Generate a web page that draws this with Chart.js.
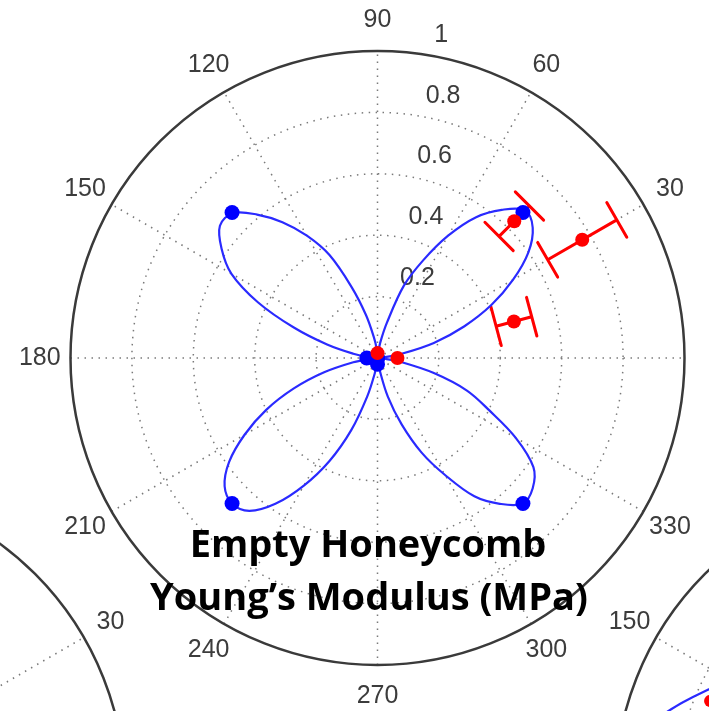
<!DOCTYPE html>
<html>
<head>
<meta charset="utf-8">
<script src="https://cdn.jsdelivr.net/npm/chart.js@4/dist/chart.umd.min.js"></script>
<style>
  html, body { margin: 0; padding: 0; background: #fff; }
  #wrap { width: 709px; height: 711px; }
</style>
</head>
<body>
<div id="wrap"><canvas id="polarChart" width="709" height="711"></canvas></div>
<script>
// ---- values (angles in degrees, radii in plot units) ----
const curveAngles = [0, 5, 10, 15, 20, 25, 30, 35, 40, 45, 50, 55, 60, 65, 70, 75, 80, 85,
                     90, 95, 100, 105, 110, 115, 120, 125, 130, 135, 140, 145, 150, 155, 160, 165, 170, 175,
                     180, 185, 190, 195, 200, 205, 210, 215, 220, 225, 230, 235, 240, 245, 250, 255, 260, 265,
                     270, 275, 280, 285, 290, 295, 300, 305, 310, 315, 320, 325, 330, 335, 340, 345, 350, 355, 360];
const curveRadii = [0, 0.02, 0.08, 0.19, 0.30, 0.41, 0.51, 0.60, 0.66, 0.68, 0.63, 0.56, 0.46, 0.35, 0.25, 0.12, 0.05, 0.01,
                    0, 0.03, 0.07, 0.145, 0.245, 0.37, 0.46, 0.54, 0.61, 0.667, 0.67, 0.62, 0.55, 0.43, 0.29, 0.17, 0.08, 0.03,
                    0, 0.02, 0.08, 0.18, 0.29, 0.40, 0.50, 0.59, 0.65, 0.67, 0.65, 0.58, 0.48, 0.37, 0.25, 0.13, 0.05, 0.01,
                    0, 0.01, 0.04, 0.13, 0.23, 0.34, 0.44, 0.55, 0.62, 0.67, 0.66, 0.62, 0.52, 0.40, 0.31, 0.19, 0.08, 0.02, 0];

const blueAngles = [0, 45, 90, 135, 180, 225, 270, 315];
const blueRadii = [0, 0.67, 0, 0.67, 0.035, 0.67, 0.02, 0.67];

const redAngles = [0, 15, 30, 45, 90];
const redRadii = [0.065, 0.46, 0.77, 0.63, 0.016];
const redErrors = [0, 0.06, 0.13, 0.07, 0];

const angleTicks = [0, 30, 60, 90, 120, 150, 180, 210, 240, 270, 300, 330];
const ringTicks = [0.2, 0.4, 0.6, 0.8, 1];

// neighbouring subplot at the bottom right, only a sliver is visible
const sideAngles = [145, 150, 155, 160, 165];
const sideRadii = [0.68, 0.72, 0.775, 0.835, 0.90];
const sideRedAngles = [157];
const sideRedRadii = [0.75];

const titleLines = ['Empty Honeycomb', 'Young\u2019s Modulus (MPa)'];

// ---- layout ----
const W = 709, H = 711;
const CX = 377.5, CY = 358, R = 307;   // main polar axes, pixels
const AXES = [
  { cx: 0, cy: 0, rings: true },
  { cx: (-182 - CX) / R, cy: -(791 - CY) / R, rings: false },
  { cx: (922 - CX) / R, cy: -(791 - CY) / R, rings: true }
];
const deg = Math.PI / 180;

function polarPoints(ax, angles, radii) {
  return angles.map((a, i) => ({
    x: ax.cx + radii[i] * Math.cos(a * deg),
    y: ax.cy + radii[i] * Math.sin(a * deg)
  }));
}

const polarGrid = {
  id: 'polarGrid',
  beforeDatasetsDraw(chart) {
    const { ctx, scales: { x, y } } = chart;
    ctx.save();
    AXES.forEach(ax => {
      const px = x.getPixelForValue(ax.cx), py = y.getPixelForValue(ax.cy);
      const rad = x.getPixelForValue(ax.cx + 1) - px;

      // dotted grid
      ctx.strokeStyle = '#7a7a7a';
      ctx.lineWidth = 1.5;
      ctx.setLineDash([1.5, 5.5]);
      if (ax.rings) {
        ringTicks.slice(0, -1).forEach(t => {
          ctx.beginPath();
          ctx.arc(px, py, t * rad, 0, 2 * Math.PI);
          ctx.stroke();
        });
      }
      angleTicks.filter(a => a < 180).forEach(a => {
        const c = Math.cos(a * deg) * rad, s = Math.sin(a * deg) * rad;
        ctx.beginPath();
        ctx.moveTo(px - c, py + s);
        ctx.lineTo(px + c, py - s);
        ctx.stroke();
      });

      // outer circle
      ctx.setLineDash([]);
      ctx.strokeStyle = '#3a3a3a';
      ctx.lineWidth = 2.5;
      ctx.beginPath();
      ctx.arc(px, py, rad, 0, 2 * Math.PI);
      ctx.stroke();

      // angle labels
      ctx.fillStyle = '#3c3c3c';
      ctx.font = '25px "Liberation Sans", Arial, sans-serif';
      ctx.textAlign = 'center';
      ctx.textBaseline = 'middle';
      angleTicks.forEach(a => {
        ctx.fillText(String(a), px + 1.1 * rad * Math.cos(a * deg), py - 1.1 * rad * Math.sin(a * deg));
      });

      // radius labels
      ctx.textAlign = 'left';
      ringTicks.forEach(t => {
        ctx.fillText(String(t), px + t * rad * Math.cos(82 * deg) + 14, py - t * rad * Math.sin(82 * deg) - 19);
      });
    });

    // radial error bars on the red points
    const main = AXES[0];
    const cap = 20;
    ctx.strokeStyle = '#ff0000';
    ctx.lineWidth = 3;
    ctx.lineCap = 'round';
    redAngles.forEach((a, i) => {
      const e = redErrors[i];
      if (!e) return;
      const [p1, p2] = polarPoints(main, [a, a], [redRadii[i] - e, redRadii[i] + e])
        .map(p => ({ x: x.getPixelForValue(p.x), y: y.getPixelForValue(p.y) }));
      const len = Math.hypot(p2.x - p1.x, p2.y - p1.y);
      const nx = -(p2.y - p1.y) / len * cap, ny = (p2.x - p1.x) / len * cap;
      ctx.beginPath();
      ctx.moveTo(p1.x, p1.y); ctx.lineTo(p2.x, p2.y);
      [p1, p2].forEach(p => { ctx.moveTo(p.x - nx, p.y - ny); ctx.lineTo(p.x + nx, p.y + ny); });
      ctx.stroke();
    });
    ctx.restore();
  },
  afterDraw(chart) {
    const { ctx } = chart;
    ctx.save();
    ctx.fillStyle = '#000';
    ctx.font = 'bold 38px "Open Sans", Lato, sans-serif';
    ctx.textAlign = 'center';
    ctx.textBaseline = 'alphabetic';
    ctx.fillText(titleLines[0], 368, 557);
    ctx.fillText(titleLines[1], 369, 610);
    ctx.restore();
  }
};

new Chart(document.getElementById('polarChart'), {
  type: 'scatter',
  data: {
    datasets: [
      { label: 'measured', data: polarPoints(AXES[0], redAngles, redRadii),
        pointRadius: 7, backgroundColor: '#ff0000', borderWidth: 0 },
      { label: 'model points', data: polarPoints(AXES[0], blueAngles, blueRadii),
        pointRadius: 7.5, backgroundColor: '#0000ff', borderWidth: 0 },
      { label: 'model', data: polarPoints(AXES[0], curveAngles, curveRadii),
        showLine: true, pointRadius: 0, borderColor: '#2a2aff', borderWidth: 2.2, tension: 0.35 },
      { label: 'side measured', data: polarPoints(AXES[2], sideRedAngles, sideRedRadii),
        pointRadius: 6, backgroundColor: '#ff0000', borderWidth: 0 },
      { label: 'side model', data: polarPoints(AXES[2], sideAngles, sideRadii),
        showLine: true, pointRadius: 0, borderColor: '#2a2aff', borderWidth: 2.2, tension: 0.35 }
    ]
  },
  options: {
    responsive: false,
    animation: false,
    devicePixelRatio: 1,
    layout: { padding: 0, autoPadding: false },
    plugins: { legend: { display: false }, tooltip: { enabled: false } },
    scales: {
      x: { type: 'linear', display: false, min: -CX / R, max: (W - CX) / R },
      y: { type: 'linear', display: false, min: -(H - CY) / R, max: CY / R }
    }
  },
  plugins: [polarGrid]
});
</script>
</body>
</html>
